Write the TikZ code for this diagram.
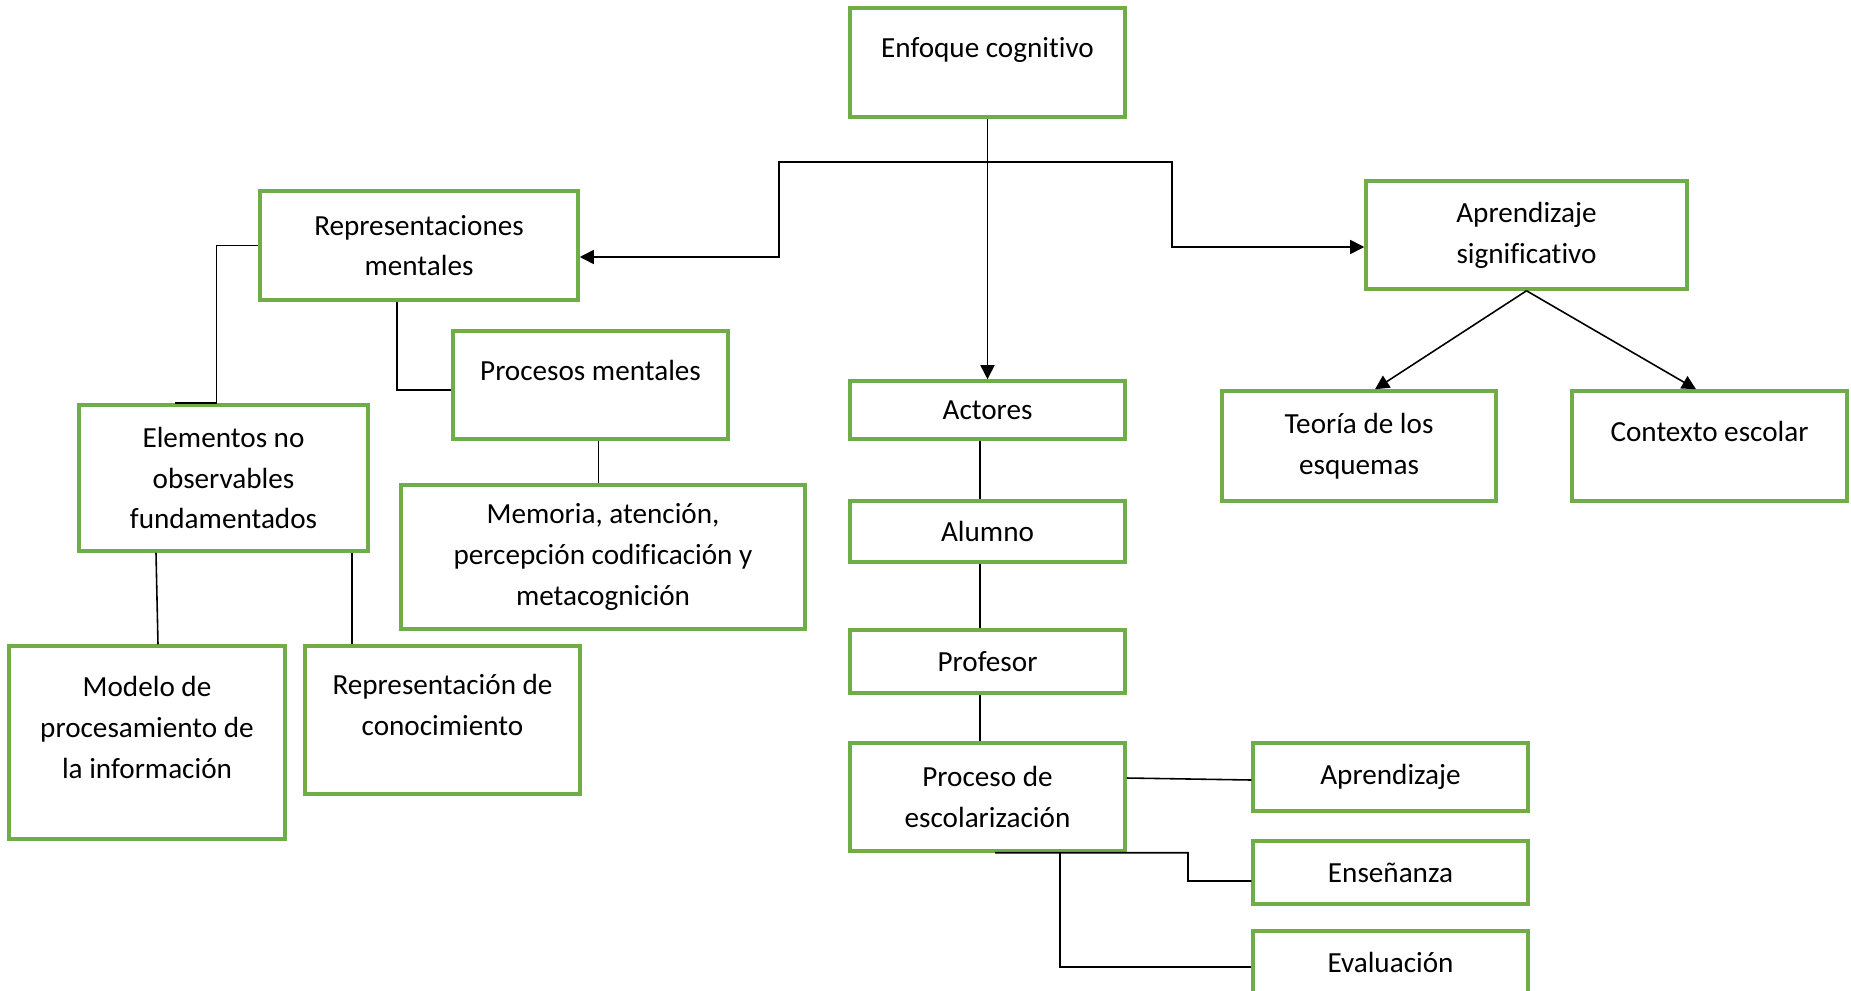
\documentclass[tikz,border=0pt]{standalone}
\usepackage{fontspec}
\setmainfont[Ligatures=NoCommon]{Carlito}
\usepackage{tikz}
\usepackage{xcolor}
\usetikzlibrary{arrows.meta}
\definecolor{boxgreen}{HTML}{70AD47}

\begin{document}
\begin{tikzpicture}[box/.style={draw=boxgreen,line width=1pt,align=center,inner sep=0pt,minimum width=2.75cm,font=\fontsize{8.3}{11.6}\selectfont},
link/.style={draw=black,line width=0.45pt},
arr/.style={link,-{Triangle[length=4pt,width=4pt]}}]
\useasboundingbox (0,0) rectangle (18.51,-9.90);
\node[box,minimum height=1.09cm] (enf) at (9.875,-0.625) {Enfoque cognitivo\\[-3pt]\mbox{}};
\node[box,minimum width=3.18cm,minimum height=1.09cm] (rep) at (4.19,-2.455) {Representaciones\\mentales};
\node[box,minimum width=3.21cm,minimum height=1.08cm] (aps) at (15.265,-2.35) {Aprendizaje\\significativo};
\node[box,minimum height=1.08cm] (pro) at (5.905,-3.85) {Procesos mentales\\[-3pt]\mbox{}};
\node[box,minimum width=2.89cm,minimum height=1.46cm] (ele) at (2.235,-4.78) {Elementos no\\observables\\fundamentados};
\node[box,minimum width=4.04cm,minimum height=1.44cm] (mem) at (6.03,-5.57) {Memoria, atención,\\percepción codificación y\\metacognición};
\node[box,minimum width=2.76cm,minimum height=1.93cm] (mod) at (1.47,-7.425) {Modelo de\\procesamiento de\\la información\\[-3pt]\mbox{}};
\node[box,minimum height=1.48cm] (rco) at (4.425,-7.20) {Representación de\\conocimiento\\[-3pt]\mbox{}};
\node[box,minimum height=0.58cm] (act) at (9.875,-4.10) {Actores};
\node[box,minimum height=0.61cm] (alu) at (9.875,-5.315) {Alumno};
\node[box,minimum height=0.63cm] (prf) at (9.875,-6.615) {Profesor};
\node[box,minimum height=1.08cm] (pes) at (9.875,-7.97) {Proceso de\\escolarización};
\node[box,minimum height=0.68cm] (apr) at (13.905,-7.77) {Aprendizaje};
\node[box,minimum height=0.63cm] (ens) at (13.905,-8.725) {Enseñanza};
\node[box,minimum height=0.63cm] (eva) at (13.905,-9.625) {Evaluación};
\node[box,minimum width=2.74cm,minimum height=1.10cm] (teo) at (13.59,-4.46) {Teoría de los\\esquemas};
\node[box,minimum height=1.10cm] (ctx) at (17.095,-4.46) {Contexto escolar\\[-3pt]\mbox{}};
\draw[arr] (enf.south) -- (act.north);
\draw[arr] (enf.south |- 0,-1.62) -| (7.79,-2.57) -- ([yshift=-0.115cm]rep.east);
\draw[arr] (enf.south |- 0,-1.62) -| (11.72,-2.47) -- ([yshift=-0.12cm]aps.west);
\draw[link] (rep.west) -| ([xshift=-0.07cm]ele.north) -- ([xshift=-0.49cm]ele.north);
\draw[link] ([xshift=-0.22cm]rep.south) |- ([yshift=-0.05cm]pro.west);
\draw[link] ([xshift=0.08cm]pro.south) -- ([xshift=0.08cm]pro.south |- mem.north);
\draw[link] ([xshift=-0.675cm]ele.south) -- ([xshift=0.11cm]mod.north);
\draw[link] ([xshift=1.285cm]ele.south) -- ([xshift=-0.905cm]rco.north);
\draw[link] ([xshift=-0.075cm]act.south) -- ([xshift=-0.075cm]alu.north);
\draw[link] ([xshift=-0.075cm]alu.south) -- ([xshift=-0.075cm]prf.north);
\draw[link] ([xshift=-0.075cm]prf.south) -- ([xshift=-0.075cm]pes.north);
\draw[link] ([yshift=0.19cm]pes.east) -- ([yshift=-0.03cm]apr.west);
\draw[link] ([xshift=0.075cm]pes.south) -| (11.88,-8.81) -- ([yshift=-0.085cm]ens.west);
\draw[link] ([xshift=0.725cm]pes.south) |- ([yshift=-0.045cm]eva.west);
\draw[arr] (aps.south) -- ([xshift=0.16cm]teo.north);
\draw[arr] (aps.south) -- ([xshift=-0.135cm]ctx.north);
\end{tikzpicture}
\end{document}
